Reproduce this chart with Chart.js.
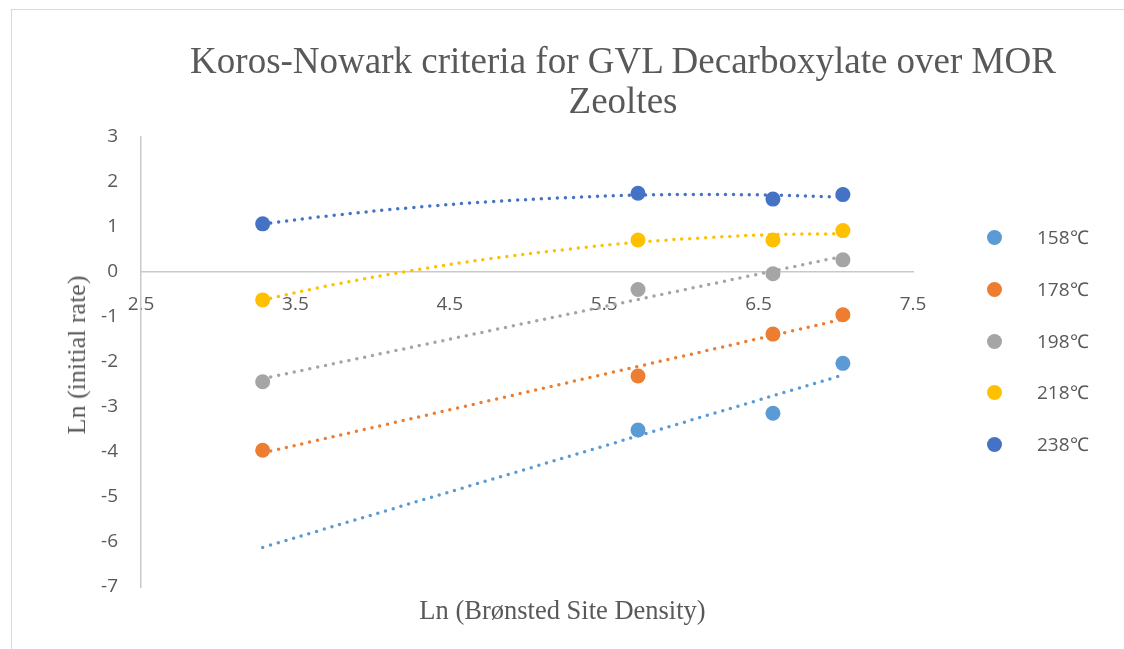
<!DOCTYPE html>
<html>
<head>
<meta charset="utf-8">
<script src="https://cdn.jsdelivr.net/npm/chart.js@4.4.1/dist/chart.umd.min.js"></script>
<style>
  body { margin: 0; background: #fff; }
  #wrap { position: relative; width: 1124px; height: 649px; overflow: hidden; }
  #frame { position: absolute; left: 11px; top: 9px; width: 1200px; height: 700px;
           border-left: 1px solid #d9d9d9; border-top: 1px solid #d9d9d9; }
  canvas { position: absolute; left: 0; top: 0; }
  .serif { position: absolute; font-family: "Liberation Serif", "Times New Roman", serif; color: #595959; white-space: nowrap; }
  #title { left: 0; width: 1246px; top: 41px; text-align: center; font-size: 37px; line-height: 40px; }
  #xTitle { left: 0; width: 1125px; top: 595px; text-align: center; font-size: 26.5px; line-height: 30px; }
  #yTitle { left: 77px; top: 355px; font-size: 26px; line-height: 30px;
            transform: translate(-50%, -50%) rotate(-90deg); }
  #legend { position: absolute; left: 987px; top: 0; font-family: "Open Sans", sans-serif; font-size: 19px; color: #595959; }
  .item { position: absolute; left: 0; height: 20px; white-space: nowrap; }
  .dot { position: absolute; left: 0; top: 2px; width: 15px; height: 15px; border-radius: 50%; }
  .lab { position: absolute; left: 50px; top: -6px; line-height: 30px; }
</style>
</head>
<body>
<div id="wrap">
  <div id="frame"></div>
  <canvas id="graph" width="1124" height="649"></canvas>
  <div id="title" class="serif">Koros-Nowark criteria for GVL Decarboxylate over MOR<br>Zeoltes</div>
  <div id="xTitle" class="serif">Ln (Brønsted Site Density)</div>
  <div id="yTitle" class="serif">Ln (initial rate)</div>
  <div id="legend"></div>
</div>
<script>
// measured points, x = Ln(Brønsted site density)
const siteDensity = [3.288, 5.719, 6.593, 7.046];
const rate158 = [null, -3.51, -3.14, -2.03];
const rate178 = [-3.96, -2.31, -1.38, -0.95];
const rate198 = [-2.44, -0.39, -0.04, 0.27];
const rate218 = [-0.62, 0.71, 0.71, 0.92];
const rate238 = [1.07, 1.75, 1.62, 1.72];

// dotted trendlines
const trendEnds = [3.288, 7.046];
const trend158 = [-6.12, -2.29];
const trend178 = [-4.02, -1.05];
const trend198 = [-2.37, 0.35];
const trendCurveX = [3.288, 3.75, 4.25, 4.75, 5.25, 5.719, 6.2, 6.593, 7.046];
const trend218 = [-0.62, -0.28, 0.03, 0.29, 0.50, 0.66, 0.77, 0.83, 0.85];
const trend238 = [1.07, 1.26, 1.43, 1.56, 1.65, 1.71, 1.72, 1.71, 1.66];

const seriesNames = ['158℃', '178℃', '198℃', '218℃', '238℃'];
const xTicks = [2.5, 3.5, 4.5, 5.5, 6.5, 7.5];

const colors = ['#5B9BD5', '#ED7D31', '#A5A5A5', '#FFC000', '#4472C4'];
const rates = [rate158, rate178, rate198, rate218, rate238];
const trends = [
  [trendEnds, trend158],
  [trendEnds, trend178],
  [trendEnds, trend198],
  [trendCurveX, trend218],
  [trendCurveX, trend238]
];

const toPoints = (xs, ys) => xs.map((x, i) => ({ x: x, y: ys[i] }));

const datasets = [];
rates.forEach((r, i) => {
  datasets.push({
    label: seriesNames[i],
    data: toPoints(siteDensity, r),
    backgroundColor: colors[i],
    borderColor: colors[i],
    pointRadius: 7.5,
    pointHoverRadius: 7.5,
    pointBorderWidth: 0,
    showLine: false,
    order: 2
  });
});
trends.forEach((t, i) => {
  datasets.push({
    label: seriesNames[i] + ' trend',
    data: toPoints(t[0], t[1]),
    borderColor: colors[i],
    borderWidth: 3.5,
    borderDash: [0, 8],
    borderCapStyle: 'round',
    pointRadius: 0,
    showLine: true,
    tension: 0.4,
    order: 1
  });
});

const tickFont = { family: '"Open Sans", sans-serif', size: 19 };

new Chart(document.getElementById('graph'), {
  type: 'scatter',
  data: { datasets: datasets },
  options: {
    responsive: false,
    animation: false,
    events: [],
    layout: { padding: { left: 11, top: 137, right: 211, bottom: 62 } },
    plugins: { legend: { display: false }, title: { display: false }, tooltip: { enabled: false } },
    scales: {
      x: {
        type: 'linear',
        position: { y: 0 },
        min: 2.5,
        max: 7.5,
        afterBuildTicks: s => { s.ticks = xTicks.map(v => ({ value: v })); },
        grid: { display: false, drawTicks: false },
        border: { display: true, color: '#c9c9c9', width: 1.5 },
        ticks: { color: '#595959', font: tickFont, padding: 21, maxRotation: 0,
                 callback: v => v.toFixed(1) }
      },
      y: {
        type: 'linear',
        min: -7,
        max: 3,
        afterFit: s => { s.width = 130; },
        grid: { display: false, drawTicks: false },
        border: { display: true, color: '#c9c9c9', width: 1.5 },
        ticks: { color: '#595959', font: tickFont, padding: 23, stepSize: 1 }
      }
    }
  }
});

// legend only lists the marker series, like the original
const legend = document.getElementById('legend');
const rowY = [238, 290, 341.5, 393, 445];
seriesNames.forEach((name, i) => {
  const item = document.createElement('div');
  item.className = 'item';
  item.style.top = (rowY[i] - 10) + 'px';
  item.innerHTML = '<span class="dot" style="background:' + colors[i] + '"></span><span class="lab">' + name + '</span>';
  legend.appendChild(item);
});
</script>
</body>
</html>
